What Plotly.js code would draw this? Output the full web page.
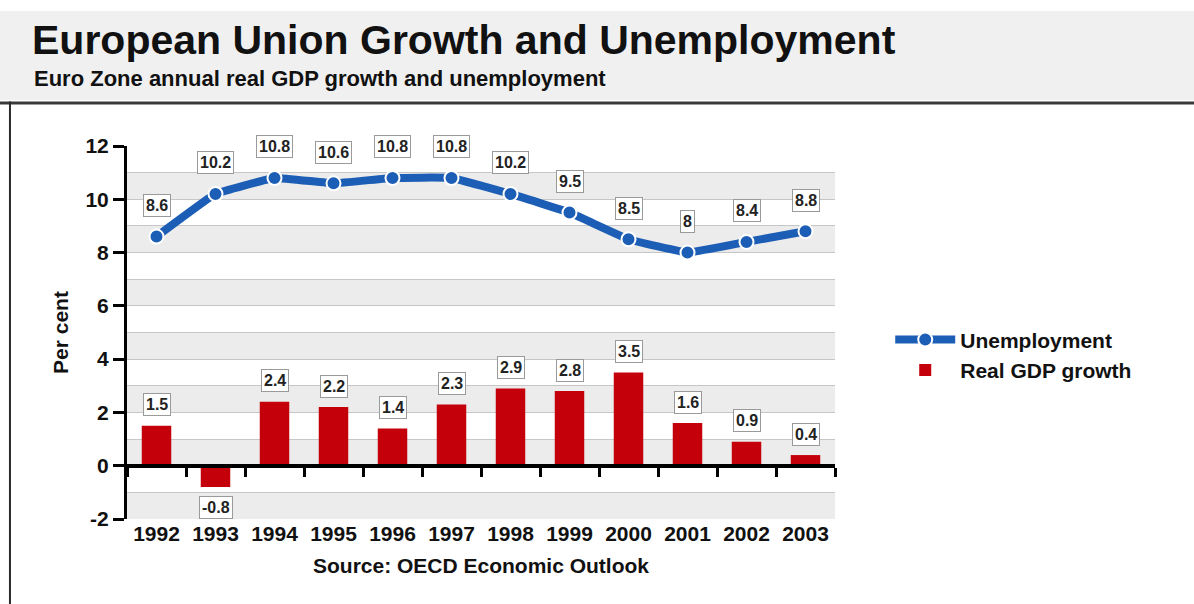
<!DOCTYPE html>
<html>
<head>
<meta charset="utf-8">
<script src="https://cdn.plot.ly/plotly-3.0.1.min.js"></script>
<style>
html,body{margin:0;padding:0;background:#fff;}
#chart{width:1194px;height:604px;}
</style>
</head>
<body>
<div id="chart"></div>
<script>
const years = ["1992","1993","1994","1995","1996","1997","1998","1999","2000","2001","2002","2003"];
const unemployment = [8.6, 10.2, 10.8, 10.6, 10.8, 10.8, 10.2, 9.5, 8.5, 8, 8.4, 8.8];
const gdpGrowth = [1.5, -0.8, 2.4, 2.2, 1.4, 2.3, 2.9, 2.8, 3.5, 1.6, 0.9, 0.4];
const yTicks = [-2, 0, 2, 4, 6, 8, 10, 12];

const FONT = '"Liberation Sans", Arial, Helvetica, sans-serif';
const BLUE = '#1c5db5';
const RED = '#c4000a';

const traces = [
  {
    type: 'bar', name: 'Real GDP growth', legendrank: 2,
    x: years, y: gdpGrowth, width: 0.5, xaxis: 'x', yaxis: 'y',
    marker: {color: RED, line: {width: 0}},
    hoverinfo: 'skip'
  },
  {
    type: 'scatter', mode: 'lines+markers', name: 'Unemployment', legendrank: 1,
    x: years, y: unemployment, xaxis: 'x2', yaxis: 'y',
    line: {color: BLUE, width: 8, shape: 'spline', smoothing: 0.25},
    marker: {color: BLUE, size: 14, line: {color: '#ffffff', width: 2}},
    hoverinfo: 'skip'
  }
];

function box(x, y, txt, shift) {
  return {
    x: x, y: y, text: txt, yshift: shift, xref: 'x', yref: 'y',
    showarrow: false, bgcolor: '#ffffff', bordercolor: '#9a9a9a', borderwidth: 1, borderpad: 2,
    font: {family: FONT, size: 16, color: '#222', weight: 'bold'}, xanchor: 'center', yanchor: 'middle'
  };
}
const annotations = [];
years.forEach((yr, i) => {
  annotations.push(box(i, unemployment[i], String(unemployment[i]), 31));
  const v = gdpGrowth[i];
  annotations.push(box(i, v, String(v), v >= 0 ? 21 : -20));
});
annotations.push({
  xref: 'paper', yref: 'paper', x: -0.134, y: 1.1823, xanchor: 'left', yanchor: 'middle', showarrow: false,
  text: 'Euro Zone annual real GDP growth and unemployment',
  font: {family: FONT, size: 22, color: '#111', weight: 'bold'}
});

const shapes = [];
for (let b = -2; b < 12; b += 2) {
  shapes.push({type: 'rect', xref: 'paper', yref: 'y', x0: 0, x1: 1, y0: b, y1: b + 1,
    fillcolor: '#ececec', line: {width: 0}, layer: 'below'});
}
shapes.push({type: 'rect', xref: 'paper', yref: 'paper', x0: -0.18, x1: 1.51, y0: 1.1233, y1: 1.362,
  fillcolor: '#f0f0f0', line: {width: 0}, layer: 'below'});
shapes.push({type: 'line', xref: 'paper', yref: 'paper', x0: -0.18, x1: 1.51, y0: 1.1153, y1: 1.1153,
  line: {color: '#3a3a3a', width: 3}});
shapes.push({type: 'line', xref: 'paper', yref: 'paper', x0: -0.1653, x1: -0.1653, y0: 1.119, y1: -0.24,
  line: {color: '#2a2a2a', width: 2}});

const layout = {
  width: 1194, height: 604,
  margin: {l: 127, r: 359, t: 146, b: 85, pad: 0},
  paper_bgcolor: '#ffffff', plot_bgcolor: '#ffffff',
  font: {family: FONT, color: '#111'},
  showlegend: true,
  title: {
    text: 'European Union Growth and Unemployment',
    xref: 'container', yref: 'container', x: 0.0268, xanchor: 'left', y: 0.9338, yanchor: 'middle',
    font: {family: FONT, size: 41, color: '#111', weight: 'bold'}
  },
  xaxis: {
    type: 'category', categoryorder: 'array', categoryarray: years,
    range: [-0.5, 11.5], showgrid: false, zeroline: false, showline: false, ticks: '',
    tickfont: {family: FONT, size: 21, color: '#111', weight: 'bold'},
    title: {text: 'Source: OECD Economic Outlook', standoff: 14,
      font: {family: FONT, size: 21, color: '#111', weight: 'bold'}},
    fixedrange: true
  },
  xaxis2: {
    type: 'category', categoryorder: 'array', categoryarray: years,
    overlaying: 'x', anchor: 'free', position: 2 / 14, side: 'bottom',
    range: [-0.5, 11.5], tickson: 'boundaries', ticks: 'outside', ticklen: 9, tickwidth: 3, tickcolor: '#000',
    showticklabels: false, showgrid: false, zeroline: false,
    showline: true, linecolor: '#000', linewidth: 4, fixedrange: true
  },
  yaxis: {
    range: [-2, 12], tickvals: yTicks, ticktext: yTicks.map(String),
    ticks: 'outside', ticklen: 11, tickwidth: 3, tickcolor: '#000',
    showline: true, linecolor: '#000', linewidth: 3,
    showgrid: true, gridcolor: '#c6c6c6', gridwidth: 1,
    minor: {dtick: 1, tick0: 0, showgrid: true, gridcolor: '#c6c6c6', gridwidth: 1, ticks: ''},
    zeroline: false,
    tickfont: {family: FONT, size: 21, color: '#111', weight: 'bold'},
    title: {text: 'Per cent', standoff: 12, font: {family: FONT, size: 21, color: '#111', weight: 'bold'}},
    fixedrange: true
  },
  legend: {
    x: 1.078, y: 0.535, xanchor: 'left', yanchor: 'top',
    bgcolor: 'rgba(0,0,0,0)', borderwidth: 0,
    font: {family: FONT, size: 21, color: '#111', weight: 'bold'},
    itemwidth: 60, traceorder: 'normal', tracegroupgap: 0
  },
  annotations: annotations,
  shapes: shapes
};

Plotly.newPlot('chart', traces, layout, {displayModeBar: false, staticPlot: true});
</script>
</body>
</html>
